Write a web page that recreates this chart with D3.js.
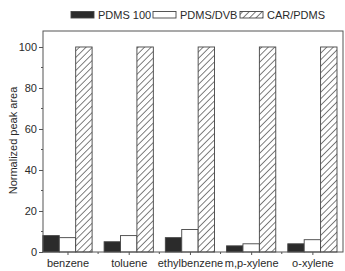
<!DOCTYPE html>
<html>
<head>
<meta charset="utf-8">
<script src="https://cdn.jsdelivr.net/npm/d3@7"></script>
<style>
  body { margin: 0; background: #fff; }
  text { font-family: "Liberation Sans", Arial, sans-serif; fill: #2a2a2a; }
</style>
</head>
<body>
<svg id="chart"></svg>
<script>
var viewWidth = 345;
var viewHeight = 271;

// data
var compounds = ["benzene", "toluene", "ethylbenzene", "m,p-xylene", "o-xylene"];
var fibers = ["PDMS 100", "PDMS/DVB", "CAR/PDMS"];
var pdms100 = [8, 5, 7, 3, 4];
var pdmsDvb = [7, 8, 11, 4, 6];
var carPdms = [100, 100, 100, 100, 100];
var yTicks = [0, 20, 40, 60, 80, 100];

var margin = {top: 31, right: 2, bottom: 19, left: 43};
var width = viewWidth - margin.left - margin.right;
var height = viewHeight - margin.top - margin.bottom;

var svg = d3.select("#chart")
    .attr("width", viewWidth)
    .attr("height", viewHeight);

var defs = svg.append("defs");
var pat = defs.append("pattern")
    .attr("id", "hatch")
    .attr("patternUnits", "userSpaceOnUse")
    .attr("width", 4.6)
    .attr("height", 4.6)
    .attr("patternTransform", "rotate(45)");
pat.append("rect").attr("width", 4.6).attr("height", 4.6).attr("fill", "#fff");
pat.append("line")
    .attr("x1", 0).attr("y1", 0).attr("x2", 0).attr("y2", 4.6)
    .attr("stroke", "#3a3a3a").attr("stroke-width", 1.3);

var fills = ["#2b2b2b", "#fff", "url(#hatch)"];

var g = svg.append("g")
    .attr("transform", "translate(" + margin.left + "," + margin.top + ")");

var x = d3.scaleLinear().domain([-0.4, 4.5]).range([0, width]);
var y = d3.scaleLinear().domain([0, 107.8]).range([height, 0]);
var bw = 0.268;

var series = [pdms100, pdmsDvb, carPdms];
series.forEach(function(vals, s) {
  g.selectAll(".bar" + s)
    .data(vals)
    .enter().append("rect")
    .attr("class", "bar" + s)
    .attr("x", function(d, i) { return x(i + (s - 1.5) * bw); })
    .attr("width", x(bw) - x(0))
    .attr("y", function(d) { return y(d); })
    .attr("height", function(d) { return y(0) - y(d); })
    .attr("fill", fills[s])
    .attr("stroke", "#444")
    .attr("stroke-width", 0.9);
});

// frame
g.append("rect")
    .attr("width", width)
    .attr("height", height)
    .attr("fill", "none")
    .attr("stroke", "#555")
    .attr("stroke-width", 1);

// y axis
var yAxis = d3.axisLeft(y).tickValues(yTicks).tickSize(4).tickPadding(2);
var ya = g.append("g").call(yAxis);
ya.select(".domain").remove();
ya.selectAll("line").attr("stroke", "#555");
ya.selectAll("text").style("font-size", "11px").attr("fill", "#2a2a2a");
g.append("g").selectAll("line")
    .data([10, 30, 50, 70, 90])
    .enter().append("line")
    .attr("x1", -2).attr("x2", 0)
    .attr("y1", function(d) { return y(d); })
    .attr("y2", function(d) { return y(d); })
    .attr("stroke", "#555");

// x axis
var xAxis = d3.axisBottom(x).tickValues(d3.range(compounds.length))
    .tickFormat(function(d) { return compounds[d]; })
    .tickSize(3).tickPadding(4);
var xa = g.append("g").attr("transform", "translate(0," + height + ")").call(xAxis);
xa.select(".domain").remove();
xa.selectAll("line").attr("stroke", "#555");
xa.selectAll("text").style("font-size", "11px").attr("fill", "#2a2a2a");
g.append("g").selectAll("line")
    .data([0.5, 1.5, 2.5, 3.5])
    .enter().append("line")
    .attr("x1", function(d) { return x(d); })
    .attr("x2", function(d) { return x(d); })
    .attr("y1", height).attr("y2", height + 2)
    .attr("stroke", "#555");

// y label
svg.append("text")
    .attr("transform", "translate(17," + (margin.top + height / 2 - 1) + ") rotate(-90)")
    .style("text-anchor", "middle")
    .style("font-size", "11px")
    .text("Normalized peak area");

// legend
var legX = [71, 153, 240];
var leg = svg.append("g");
fibers.forEach(function(f, i) {
  leg.append("rect")
    .attr("x", legX[i]).attr("y", 11.5)
    .attr("width", 23).attr("height", 6.5)
    .attr("fill", fills[i])
    .attr("stroke", "#444")
    .attr("stroke-width", 0.9);
  leg.append("text")
    .attr("x", legX[i] + 27).attr("y", 18.5)
    .style("font-size", "11px")
    .text(f);
});
</script>
</body>
</html>
